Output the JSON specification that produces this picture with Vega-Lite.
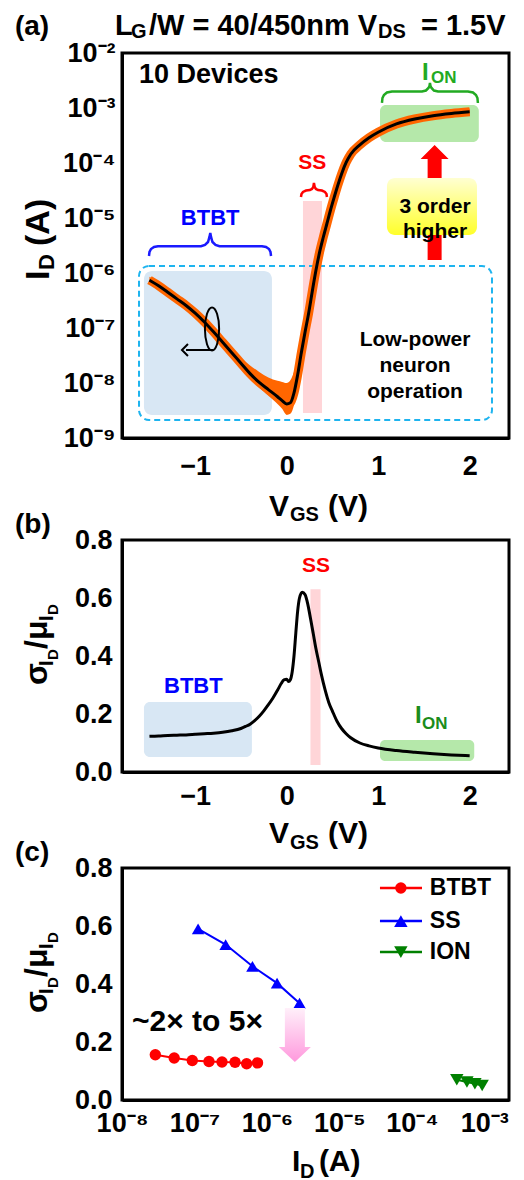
{
"$schema":"https://vega.github.io/schema/vega-lite/v6.json",
"padding":{"left":13,"top":10,"right":5,"bottom":5},
"config":{
 "view":{"stroke":"black","strokeWidth":3},
 "axis":{"domainColor":"black","domainWidth":3,"tickColor":"black","tickWidth":2.5,"tickSize":0,"labelFont":"Liberation Sans","labelFontWeight":"bold","labelFontSize":27,"labelColor":"black","grid":false,"labelFlush":false,"labelOverlap":false,"labelBound":false},
 "text":{"font":"Liberation Sans","fontWeight":"bold","color":"black"}
},
"datasets":{
 "iv":[
  {"V":-1.5,"I":7.413e-7,"lo":6.457e-7,"hi":8.511e-7},
  {"V":-1.4,"I":5.888e-7,"lo":5.129e-7,"hi":6.761e-7},
  {"V":-1.3,"I":4.467e-7,"lo":3.890e-7,"hi":5.129e-7},
  {"V":-1.2,"I":3.388e-7,"lo":2.951e-7,"hi":3.890e-7},
  {"V":-1.1,"I":2.570e-7,"lo":2.239e-7,"hi":2.951e-7},
  {"V":-1.0,"I":1.862e-7,"lo":1.622e-7,"hi":2.138e-7},
  {"V":-0.9,"I":1.288e-7,"lo":1.122e-7,"hi":1.479e-7},
  {"V":-0.8,"I":8.511e-8,"lo":7.413e-8,"hi":9.772e-8},
  {"V":-0.7,"I":5.495e-8,"lo":4.786e-8,"hi":6.310e-8},
  {"V":-0.6,"I":3.548e-8,"lo":3.020e-8,"hi":4.266e-8},
  {"V":-0.5,"I":2.291e-8,"lo":1.905e-8,"hi":2.884e-8},
  {"V":-0.4,"I":1.479e-8,"lo":1.202e-8,"hi":2.089e-8},
  {"V":-0.3,"I":1.023e-8,"lo":8.318e-9,"hi":1.585e-8},
  {"V":-0.2,"I":7.586e-9,"lo":5.888e-9,"hi":1.259e-8},
  {"V":-0.1,"I":5.623e-9,"lo":4.169e-9,"hi":1.096e-8},
  {"V":-0.05,"I":4.786e-9,"lo":3.388e-9,"hi":1.047e-8},
  {"V":0.0,"I":4.169e-9,"lo":2.630e-9,"hi":1.000e-8},
  {"V":0.04,"I":4.365e-9,"lo":2.754e-9,"hi":1.122e-8},
  {"V":0.08,"I":6.607e-9,"lo":3.981e-9,"hi":1.585e-8},
  {"V":0.12,"I":1.413e-8,"lo":8.913e-9,"hi":2.818e-8},
  {"V":0.16,"I":3.548e-8,"lo":2.512e-8,"hi":5.623e-8},
  {"V":0.2,"I":8.318e-8,"lo":6.310e-8,"hi":1.175e-7},
  {"V":0.24,"I":1.862e-7,"lo":1.479e-7,"hi":2.512e-7},
  {"V":0.28,"I":4.677e-7,"lo":3.802e-7,"hi":6.026e-7},
  {"V":0.32,"I":1.122e-6,"lo":9.333e-7,"hi":1.380e-6},
  {"V":0.36,"I":2.399e-6,"lo":2.042e-6,"hi":2.884e-6},
  {"V":0.4,"I":4.467e-6,"lo":3.890e-6,"hi":5.248e-6},
  {"V":0.44,"I":7.943e-6,"lo":6.918e-6,"hi":9.120e-6},
  {"V":0.48,"I":1.413e-5,"lo":1.230e-5,"hi":1.622e-5},
  {"V":0.52,"I":2.399e-5,"lo":2.089e-5,"hi":2.754e-5},
  {"V":0.56,"I":3.981e-5,"lo":3.467e-5,"hi":4.571e-5},
  {"V":0.6,"I":6.310e-5,"lo":5.495e-5,"hi":7.244e-5},
  {"V":0.65,"I":1.023e-4,"lo":8.913e-5,"hi":1.175e-4},
  {"V":0.7,"I":1.445e-4,"lo":1.259e-4,"hi":1.660e-4},
  {"V":0.8,"I":2.138e-4,"lo":1.862e-4,"hi":2.455e-4},
  {"V":0.9,"I":2.884e-4,"lo":2.512e-4,"hi":3.311e-4},
  {"V":1.0,"I":3.631e-4,"lo":3.162e-4,"hi":4.169e-4},
  {"V":1.2,"I":5.129e-4,"lo":4.467e-4,"hi":5.888e-4},
  {"V":1.4,"I":6.310e-4,"lo":5.495e-4,"hi":7.244e-4},
  {"V":1.6,"I":7.244e-4,"lo":6.310e-4,"hi":8.318e-4},
  {"V":1.8,"I":7.943e-4,"lo":6.918e-4,"hi":9.120e-4},
  {"V":2.0,"I":8.511e-4,"lo":7.413e-4,"hi":9.772e-4}
 ],
 "cv":[
  {"V":-1.5,"cv":0.123},{"V":-1.4,"cv":0.124},{"V":-1.3,"cv":0.126},{"V":-1.2,"cv":0.127},
  {"V":-1.1,"cv":0.128},{"V":-1.0,"cv":0.130},{"V":-0.9,"cv":0.132},{"V":-0.8,"cv":0.134},
  {"V":-0.7,"cv":0.137},{"V":-0.6,"cv":0.142},{"V":-0.5,"cv":0.150},{"V":-0.45,"cv":0.157},
  {"V":-0.4,"cv":0.165},{"V":-0.35,"cv":0.177},{"V":-0.3,"cv":0.192},{"V":-0.25,"cv":0.211},
  {"V":-0.2,"cv":0.232},{"V":-0.15,"cv":0.255},{"V":-0.1,"cv":0.282},{"V":-0.06,"cv":0.305},
  {"V":-0.03,"cv":0.318},{"V":0.0,"cv":0.320},{"V":0.02,"cv":0.312},{"V":0.04,"cv":0.318},
  {"V":0.06,"cv":0.345},{"V":0.08,"cv":0.400},{"V":0.10,"cv":0.480},{"V":0.12,"cv":0.555},
  {"V":0.14,"cv":0.600},{"V":0.17,"cv":0.620},{"V":0.20,"cv":0.612},{"V":0.23,"cv":0.580},
  {"V":0.26,"cv":0.530},{"V":0.29,"cv":0.478},{"V":0.32,"cv":0.425},{"V":0.35,"cv":0.380},
  {"V":0.38,"cv":0.335},{"V":0.42,"cv":0.283},{"V":0.46,"cv":0.240},{"V":0.50,"cv":0.210},
  {"V":0.55,"cv":0.175},{"V":0.60,"cv":0.150},{"V":0.65,"cv":0.132},{"V":0.70,"cv":0.118},
  {"V":0.80,"cv":0.100},{"V":0.90,"cv":0.090},{"V":1.00,"cv":0.083},{"V":1.20,"cv":0.074},
  {"V":1.40,"cv":0.068},{"V":1.60,"cv":0.063},{"V":1.80,"cv":0.059},{"V":2.00,"cv":0.056}
 ],
 "dev":[
  {"s":"BTBT","I":2.884e-8,"cv":0.156},{"s":"BTBT","I":5.248e-8,"cv":0.145},{"s":"BTBT","I":9.333e-8,"cv":0.136},
  {"s":"BTBT","I":1.585e-7,"cv":0.133},{"s":"BTBT","I":2.399e-7,"cv":0.131},{"s":"BTBT","I":3.631e-7,"cv":0.130},
  {"s":"BTBT","I":5.248e-7,"cv":0.125},{"s":"BTBT","I":7.413e-7,"cv":0.128},
  {"s":"SS","I":1.122e-7,"cv":0.590},{"s":"SS","I":2.692e-7,"cv":0.536},{"s":"SS","I":6.310e-7,"cv":0.461},
  {"s":"SS","I":1.380e-6,"cv":0.403},{"s":"SS","I":2.818e-6,"cv":0.334},
  {"s":"ION","I":4.169e-4,"cv":0.070},{"s":"ION","I":5.754e-4,"cv":0.062},{"s":"ION","I":7.413e-4,"cv":0.056},{"s":"ION","I":9.333e-4,"cv":0.050}
 ],
 "braceI":[
  {"x":1.0415,"y":1.233e-3},{"x":1.047,"y":1.520e-3},{"x":1.063,"y":1.722e-3},{"x":1.096,"y":1.914e-3},
  {"x":1.151,"y":1.995e-3},{"x":1.479,"y":1.995e-3},{"x":1.522,"y":2.080e-3},{"x":1.550,"y":2.31e-3},
  {"x":1.561,"y":2.51e-3},{"x":1.566,"y":2.85e-3},{"x":1.572,"y":2.51e-3},{"x":1.583,"y":2.31e-3},
  {"x":1.610,"y":2.080e-3},{"x":1.654,"y":1.995e-3},{"x":1.981,"y":1.995e-3},{"x":2.036,"y":1.914e-3},
  {"x":2.069,"y":1.722e-3},{"x":2.085,"y":1.520e-3},{"x":2.090,"y":1.233e-3}
 ],
 "braceS":[
  {"x":0.156,"y":2.41e-5},{"x":0.162,"y":2.73e-5},{"x":0.178,"y":2.97e-5},{"x":0.211,"y":3.16e-5},
  {"x":0.254,"y":3.23e-5},{"x":0.276,"y":3.37e-5},{"x":0.291,"y":3.66e-5},{"x":0.298,"y":4.33e-5},
  {"x":0.306,"y":3.66e-5},{"x":0.320,"y":3.37e-5},{"x":0.342,"y":3.23e-5},{"x":0.385,"y":3.16e-5},
  {"x":0.418,"y":2.97e-5},{"x":0.435,"y":2.73e-5},{"x":0.440,"y":2.41e-5}
 ],
 "braceB":[
  {"x":-1.505,"y":2.04e-6},{"x":-1.4995,"y":2.41e-6},{"x":-1.483,"y":2.73e-6},{"x":-1.450,"y":2.97e-6},
  {"x":-1.407,"y":3.06e-6},{"x":-0.937,"y":3.06e-6},{"x":-0.893,"y":3.23e-6},{"x":-0.860,"y":3.66e-6},
  {"x":-0.844,"y":4.52e-6},{"x":-0.835,"y":5.33e-6},{"x":-0.827,"y":4.52e-6},{"x":-0.811,"y":3.66e-6},
  {"x":-0.778,"y":3.23e-6},{"x":-0.734,"y":3.06e-6},{"x":-0.270,"y":3.06e-6},{"x":-0.226,"y":2.97e-6},
  {"x":-0.193,"y":2.73e-6},{"x":-0.177,"y":2.41e-6},{"x":-0.171,"y":2.04e-6}
 ]
},
"bounds":"flush",
"spacing":102,
"vconcat":[
 {
  "width":387,"height":385,
  "data":{"values":[{}]},
  "resolve":{"axis":{"x":"independent","y":"independent"}},
  "layer":[
  {"layer":[
   {"mark":{"type":"rect","color":"#d8e7f4","cornerRadius":8},
    "encoding":{
     "x":{"datum":-1.56,"type":"quantitative","scale":{"domain":[-1.8,2.43],"nice":false,"zero":false},
      "axis":{"title":null,"values":[-1,0,1,2],"format":"d",
       "encode":{"ticks":{"update":{"y2":{"value":-9}}}},
       "labelPadding":15}},
     "x2":{"datum":-0.161},
     "y":{"datum":1.087e-6,"type":"quantitative","scale":{"type":"log","domain":[1e-9,1e-2],"nice":false},
      "axis":{"title":null,"values":[1e-9,1e-8,1e-7,1e-6,1e-5,1e-4,1e-3,1e-2],
       "labelExpr":"'10'+['⁻⁹','⁻⁸','⁻⁷','⁻⁶','⁻⁵','⁻⁴','⁻³','⁻²'][round(log(datum.value)/LN10)+9]",
       "encode":{"ticks":{"update":{"x2":{"value":9}}}},
       "labelPadding":7}},
     "y2":{"datum":2.62e-9}}},
   {"mark":{"type":"rect","color":"#ffd5d8"},
    "encoding":{"x":{"datum":0.178},"x2":{"datum":0.386},"y":{"datum":2.04e-5},"y2":{"datum":2.85e-9}}},
   {"mark":{"type":"rect","color":"#b5e8aa","cornerRadius":6},
    "encoding":{"x":{"datum":1.02},"x2":{"datum":2.10},"y":{"datum":1.135e-3},"y2":{"datum":2.41e-4}}},
   {"mark":{"type":"rect","fill":null,"filled":false,"stroke":"#1eb4ef","strokeWidth":2,"strokeDash":[6,4],"cornerRadius":10},
    "encoding":{"x":{"datum":-1.614},"x2":{"datum":2.244},"y":{"datum":1.34e-6},"y2":{"datum":2.12e-9}}},
   {"mark":{"type":"point","shape":"M -0.1217 1 L -0.1217 -0.7565 L -0.2435 -0.7565 L 0 -1 L 0.2435 -0.7565 L 0.1217 -0.7565 L 0.1217 1 Z","size":13225,"filled":true,"color":"#ff0000","opacity":1,"strokeWidth":0},
    "encoding":{"x":{"datum":1.617},"y":{"datum":1.914e-5}}},
   {"mark":{"type":"rect","cornerRadius":8,"color":{"gradient":"linear","x1":0,"y1":0,"x2":0,"y2":1,"stops":[{"offset":0,"color":"#ffffd2"},{"offset":1,"color":"#ffff2a"}]}},
    "encoding":{"x":{"datum":1.096},"x2":{"datum":2.080},"y":{"datum":5.33e-5},"y2":{"datum":4.91e-6}}},
   {"data":{"name":"iv"},"mark":{"type":"area","color":"#ff6600","opacity":1,"interpolate":"monotone"},
    "encoding":{"x":{"field":"V","type":"quantitative","title":null},"y":{"field":"lo","type":"quantitative","title":null},"y2":{"field":"hi"}}},
   {"data":{"name":"iv"},"mark":{"type":"line","color":"#ff6600","strokeWidth":9,"interpolate":"monotone"},
    "encoding":{"x":{"field":"V","type":"quantitative","title":null},"y":{"field":"I","type":"quantitative","title":null}}},
   {"data":{"name":"iv"},"mark":{"type":"line","color":"black","strokeWidth":3,"interpolate":"monotone"},
    "encoding":{"x":{"field":"V","type":"quantitative","title":null},"y":{"field":"I","type":"quantitative","title":null}}},
   {"mark":{"type":"point","shape":"M -0.33 0 A 0.33 1 0 1 0 0.33 0 A 0.33 1 0 1 0 -0.33 0 Z","size":1849,"filled":false,"color":"black","strokeWidth":2,"opacity":1},
    "encoding":{"x":{"datum":-0.816},"y":{"datum":9.59e-8}}},
   {"mark":{"type":"rule","color":"black","strokeWidth":2},
    "encoding":{"x":{"datum":-0.80},"x2":{"datum":-1.10},"y":{"datum":3.98e-8}}},
   {"mark":{"type":"point","shape":"M 0 -1 L -1 0 L 0 1","size":144,"filled":false,"color":"black","strokeWidth":2,"opacity":1},
    "encoding":{"x":{"datum":-1.079},"y":{"datum":3.98e-8}}},
   {"data":{"name":"braceI"},"mark":{"type":"line","color":"#22aa22","strokeWidth":2.5},
    "encoding":{"x":{"field":"x","type":"quantitative","title":null},"y":{"field":"y","type":"quantitative","title":null}}},
   {"data":{"name":"braceS"},"mark":{"type":"line","color":"#ff0000","strokeWidth":2.5},
    "encoding":{"x":{"field":"x","type":"quantitative","title":null},"y":{"field":"y","type":"quantitative","title":null}}},
   {"data":{"name":"braceB"},"mark":{"type":"line","color":"#1a1aff","strokeWidth":2.5},
    "encoding":{"x":{"field":"x","type":"quantitative","title":null},"y":{"field":"y","type":"quantitative","title":null}}},
   {"mark":{"type":"text","text":"BTBT","color":"#0000ff","fontSize":22,"align":"center","baseline":"middle"},
    "encoding":{"x":{"datum":-0.836},"y":{"datum":1e-5}}},
   {"mark":{"type":"text","text":"SS","color":"#ff0000","fontSize":21,"align":"center","baseline":"middle"},
    "encoding":{"x":{"datum":0.28},"y":{"datum":1e-4}}},
   {"mark":{"type":"text","text":"I","color":"#22aa22","fontSize":24,"align":"left","baseline":"alphabetic"},
    "encoding":{"x":{"datum":1.478},"y":{"datum":3.25e-3}}},
   {"mark":{"type":"text","text":"ON","color":"#22aa22","fontSize":17,"align":"left","baseline":"alphabetic"},
    "encoding":{"x":{"datum":1.577},"y":{"datum":2.85e-3}}},
   {"mark":{"type":"text","text":"10 Devices","fontSize":27,"align":"left","baseline":"alphabetic"},
    "encoding":{"x":{"datum":-1.614},"y":{"datum":2.85e-3}}},
   {"mark":{"type":"text","text":["3 order","higher"],"fontSize":21,"lineHeight":25,"align":"center","baseline":"middle"},
    "encoding":{"x":{"datum":1.621},"y":{"datum":1.585e-5}}},
   {"mark":{"type":"text","text":["Low-power","neuron","operation"],"fontSize":21,"lineHeight":26,"align":"center","baseline":"middle"},
    "encoding":{"x":{"datum":1.403},"y":{"datum":6.05e-8}}},
   {"mark":{"type":"text","text":"(a)","fontSize":28,"align":"left","baseline":"middle"},
    "encoding":{"x":{"datum":-2.97},"y":{"datum":2.97e-2}}},
   {"mark":{"type":"text","text":"L","fontSize":29,"align":"left","baseline":"alphabetic"},
    "encoding":{"x":{"datum":-1.877},"y":{"datum":2.12e-2}}},
   {"mark":{"type":"text","text":"G","fontSize":20,"align":"left","baseline":"alphabetic"},
    "encoding":{"x":{"datum":-1.702},"y":{"datum":1.87e-2}}},
   {"mark":{"type":"text","text":"/W = 40/450nm V","fontSize":29,"align":"left","baseline":"alphabetic"},
    "encoding":{"x":{"datum":-1.505},"y":{"datum":2.12e-2}}},
   {"mark":{"type":"text","text":"DS","fontSize":20,"align":"left","baseline":"alphabetic"},
    "encoding":{"x":{"datum":0.998},"y":{"datum":1.87e-2}}},
   {"mark":{"type":"text","text":"= 1.5V","fontSize":29,"align":"left","baseline":"alphabetic"},
    "encoding":{"x":{"datum":1.467},"y":{"datum":2.12e-2}}},
   {"mark":{"type":"text","text":"V","fontSize":30,"align":"left","baseline":"alphabetic"},
    "encoding":{"x":{"datum":-0.193},"y":{"datum":3.82e-11}}},
   {"mark":{"type":"text","text":"GS","fontSize":20,"align":"left","baseline":"alphabetic"},
    "encoding":{"x":{"datum":0.036},"y":{"datum":3.10e-11}}},
   {"mark":{"type":"text","text":"(V)","fontSize":30,"align":"left","baseline":"alphabetic"},
    "encoding":{"x":{"datum":0.451},"y":{"datum":3.82e-11}}},
   {"mark":{"type":"text","text":"I","fontSize":34,"angle":270,"align":"left","baseline":"alphabetic"},
    "encoding":{"x":{"datum":-2.598},"y":{"datum":7.46e-7}}},
   {"mark":{"type":"text","text":"D","fontSize":22,"angle":270,"align":"left","baseline":"alphabetic","dx":10,"dy":5},
    "encoding":{"x":{"datum":-2.598},"y":{"datum":7.46e-7}}},
   {"mark":{"type":"text","text":"(A)","fontSize":34,"angle":270,"align":"left","baseline":"alphabetic","dx":34},
    "encoding":{"x":{"datum":-2.598},"y":{"datum":7.46e-7}}}
  ]},
  {"mark":{"type":"point","opacity":0},
   "encoding":{
    "x":{"datum":0,"type":"quantitative","axis":{"orient":"bottom","title":null,"labels":false,"domain":false,"values":[-1.6,-1.4,-1.2,-0.8,-0.6,-0.4,-0.2,0.2,0.4,0.6,0.8,1.2,1.4,1.6,1.8,2.2,2.4],"encode":{"ticks":{"update":{"y2":{"value":-5}}}}}},
    "y":{"datum":1e-5,"type":"quantitative","axis":{"orient":"left","title":null,"labels":false,"domain":false,"values":[2e-9,3e-9,4e-9,5e-9,6e-9,7e-9,8e-9,9e-9,2e-8,3e-8,4e-8,5e-8,6e-8,7e-8,8e-8,9e-8,2e-7,3e-7,4e-7,5e-7,6e-7,7e-7,8e-7,9e-7,2e-6,3e-6,4e-6,5e-6,6e-6,7e-6,8e-6,9e-6,2e-5,3e-5,4e-5,5e-5,6e-5,7e-5,8e-5,9e-5,2e-4,3e-4,4e-4,5e-4,6e-4,7e-4,8e-4,9e-4,2e-3,3e-3,4e-3,5e-3,6e-3,7e-3,8e-3,9e-3],"encode":{"ticks":{"update":{"x2":{"value":5}}}}}}}}
  ]
 },
 {
  "bounds":"flush",
  "spacing":96,
  "vconcat":[
   {
    "width":387,"height":232,
    "data":{"values":[{}]},
    "resolve":{"axis":{"x":"independent","y":"independent"}},
    "layer":[
    {"layer":[
     {"mark":{"type":"rect","color":"#ffd5d8"},
      "encoding":{
       "x":{"datum":0.26,"type":"quantitative","scale":{"domain":[-1.8,2.43],"nice":false,"zero":false},
        "axis":{"title":null,"values":[-1,0,1,2],"format":"d",
         "encode":{"ticks":{"update":{"y2":{"value":-9}}}},
         "labelPadding":11}},
       "x2":{"datum":0.37},
       "y":{"datum":0.63,"type":"quantitative","scale":{"domain":[0,0.8],"nice":false},
        "axis":{"title":null,"values":[0,0.2,0.4,0.6,0.8],"format":".1f",
         "encode":{"ticks":{"update":{"x2":{"value":9}}}},
         "labelPadding":10}},
       "y2":{"datum":0.024}}},
     {"mark":{"type":"rect","color":"#d8e7f4","cornerRadius":6},
      "encoding":{"x":{"datum":-1.56},"x2":{"datum":-0.38},"y":{"datum":0.241},"y2":{"datum":0.052}}},
     {"mark":{"type":"rect","color":"#b5e8aa","cornerRadius":5},
      "encoding":{"x":{"datum":1.02},"x2":{"datum":2.05},"y":{"datum":0.11},"y2":{"datum":0.038}}},
     {"data":{"name":"cv"},"mark":{"type":"line","color":"black","strokeWidth":3,"interpolate":"monotone"},
      "encoding":{"x":{"field":"V","type":"quantitative","title":null},"y":{"field":"cv","type":"quantitative","title":null}}},
     {"mark":{"type":"text","text":"SS","color":"#ff0000","fontSize":21,"align":"center","baseline":"middle"},
      "encoding":{"x":{"datum":0.32},"y":{"datum":0.71}}},
     {"mark":{"type":"text","text":"BTBT","color":"#0000ff","fontSize":22,"align":"center","baseline":"middle"},
      "encoding":{"x":{"datum":-1.02},"y":{"datum":0.297}}},
     {"mark":{"type":"text","text":"I","color":"#1b8c1b","fontSize":24,"align":"left","baseline":"alphabetic"},
      "encoding":{"x":{"datum":1.402},"y":{"datum":0.169}}},
     {"mark":{"type":"text","text":"ON","color":"#1b8c1b","fontSize":17,"align":"left","baseline":"alphabetic"},
      "encoding":{"x":{"datum":1.479},"y":{"datum":0.148}}},
     {"mark":{"type":"text","text":"(b)","fontSize":28,"align":"left","baseline":"middle"},
      "encoding":{"x":{"datum":-2.97},"y":{"datum":0.852}}},
     {"mark":{"type":"text","text":"V","fontSize":30,"align":"left","baseline":"alphabetic"},
      "encoding":{"x":{"datum":-0.193},"y":{"datum":-0.245}}},
     {"mark":{"type":"text","text":"GS","fontSize":20,"align":"left","baseline":"alphabetic"},
      "encoding":{"x":{"datum":0.036},"y":{"datum":-0.266}}},
     {"mark":{"type":"text","text":"(V)","fontSize":30,"align":"left","baseline":"alphabetic"},
      "encoding":{"x":{"datum":0.451},"y":{"datum":-0.245}}},
     {"mark":{"type":"text","text":"σ","fontSize":32,"angle":270,"align":"left","baseline":"alphabetic"},
      "encoding":{"x":{"datum":-2.62},"y":{"datum":0.30}}},
     {"mark":{"type":"text","text":"I","fontSize":20,"angle":270,"align":"left","baseline":"alphabetic","dx":19,"dy":6},
      "encoding":{"x":{"datum":-2.62},"y":{"datum":0.30}}},
     {"mark":{"type":"text","text":"D","fontSize":15,"angle":270,"align":"left","baseline":"alphabetic","dx":25,"dy":11},
      "encoding":{"x":{"datum":-2.62},"y":{"datum":0.30}}},
     {"mark":{"type":"text","text":"/μ","fontSize":32,"angle":270,"align":"left","baseline":"alphabetic","dx":36},
      "encoding":{"x":{"datum":-2.62},"y":{"datum":0.30}}},
     {"mark":{"type":"text","text":"I","fontSize":20,"angle":270,"align":"left","baseline":"alphabetic","dx":64,"dy":6},
      "encoding":{"x":{"datum":-2.62},"y":{"datum":0.30}}},
     {"mark":{"type":"text","text":"D","fontSize":15,"angle":270,"align":"left","baseline":"alphabetic","dx":70,"dy":11},
      "encoding":{"x":{"datum":-2.62},"y":{"datum":0.30}}}
    ]},
    {"mark":{"type":"point","opacity":0},
     "encoding":{
      "x":{"datum":0,"type":"quantitative","axis":{"orient":"bottom","title":null,"labels":false,"domain":false,"values":[-1.6,-1.4,-1.2,-0.8,-0.6,-0.4,-0.2,0.2,0.4,0.6,0.8,1.2,1.4,1.6,1.8,2.2,2.4],"encode":{"ticks":{"update":{"y2":{"value":-5}}}}}},
      "y":{"datum":0.1,"type":"quantitative","axis":{"orient":"left","title":null,"labels":false,"domain":false,"values":[0.04,0.08,0.12,0.16,0.24,0.28,0.32,0.36,0.44,0.48,0.52,0.56,0.64,0.68,0.72,0.76],"encode":{"ticks":{"update":{"x2":{"value":5}}}}}}}}
    ]
   },
   {
    "width":387,"height":232,
    "data":{"values":[{}]},
    "resolve":{"axis":{"x":"independent","y":"independent"}},
    "layer":[
    {"layer":[
     {"data":{"name":"dev"},"mark":{"type":"line","strokeWidth":2},
      "encoding":{
       "x":{"field":"I","type":"quantitative","scale":{"type":"log","domain":[1e-8,2.19e-3],"nice":false},
        "axis":{"title":null,"values":[1e-8,1e-7,1e-6,1e-5,1e-4,1e-3],
         "labelExpr":"'10'+['⁻⁸','⁻⁷','⁻⁶','⁻⁵','⁻⁴','⁻³'][round(log(datum.value)/LN10)+8]",
         "encode":{"ticks":{"update":{"y2":{"value":-9}}}},
         "labelPadding":10}},
       "y":{"field":"cv","type":"quantitative","scale":{"domain":[0,0.8],"nice":false},
        "axis":{"title":null,"values":[0,0.2,0.4,0.6,0.8],"format":".1f",
         "encode":{"ticks":{"update":{"x2":{"value":9}}}},
         "labelPadding":10}},
       "color":{"field":"s","type":"nominal","scale":{"domain":["BTBT","SS","ION"],"range":["#ff0000","#0000ff","#008000"]},"legend":null}}},
     {"data":{"name":"dev"},"mark":{"type":"point","filled":true,"opacity":1},
      "encoding":{
       "x":{"field":"I","type":"quantitative","title":null},
       "y":{"field":"cv","type":"quantitative","title":null},
       "color":{"field":"s","type":"nominal","scale":{"domain":["BTBT","SS","ION"],"range":["#ff0000","#0000ff","#008000"]},"legend":null},
       "shape":{"field":"s","type":"nominal","scale":{"domain":["BTBT","SS","ION"],"range":["circle","triangle-up","triangle-down"]},"legend":null},
       "size":{"field":"s","type":"nominal","scale":{"domain":["BTBT","SS","ION"],"range":[130,180,180]},"legend":null}}},
     {"mark":{"type":"rule","color":"#ff0000","strokeWidth":2.5},
      "encoding":{"x":{"datum":3.63e-5},"x2":{"datum":1.38e-4},"y":{"datum":0.731}}},
     {"mark":{"type":"point","shape":"circle","filled":true,"opacity":1,"size":130,"color":"#ff0000"},
      "encoding":{"x":{"datum":7.05e-5},"y":{"datum":0.731}}},
     {"mark":{"type":"text","text":"BTBT","fontSize":23,"align":"left","baseline":"middle"},
      "encoding":{"x":{"datum":1.77e-4},"y":{"datum":0.731}}},
     {"mark":{"type":"rule","color":"#0000ff","strokeWidth":2.5},
      "encoding":{"x":{"datum":3.63e-5},"x2":{"datum":1.38e-4},"y":{"datum":0.617}}},
     {"mark":{"type":"point","shape":"triangle-up","filled":true,"opacity":1,"size":180,"color":"#0000ff"},
      "encoding":{"x":{"datum":7.05e-5},"y":{"datum":0.617}}},
     {"mark":{"type":"text","text":"SS","fontSize":23,"align":"left","baseline":"middle"},
      "encoding":{"x":{"datum":1.77e-4},"y":{"datum":0.617}}},
     {"mark":{"type":"rule","color":"#008000","strokeWidth":2.5},
      "encoding":{"x":{"datum":3.63e-5},"x2":{"datum":1.38e-4},"y":{"datum":0.510}}},
     {"mark":{"type":"point","shape":"triangle-down","filled":true,"opacity":1,"size":180,"color":"#008000"},
      "encoding":{"x":{"datum":7.05e-5},"y":{"datum":0.510}}},
     {"mark":{"type":"text","text":"ION","fontSize":23,"align":"left","baseline":"middle"},
      "encoding":{"x":{"datum":1.77e-4},"y":{"datum":0.510}}},
     {"mark":{"type":"text","text":"~2× to 5×","fontSize":30,"align":"left","baseline":"alphabetic"},
      "encoding":{"x":{"datum":1.374e-8},"y":{"datum":0.238}}},
     {"mark":{"type":"point","shape":"M -0.37 -1 L 0.37 -1 L 0.37 0.444 L 0.593 0.444 L 0 1 L -0.593 0.444 L -0.37 0.444 Z","size":2916,"filled":true,"opacity":1,"strokeWidth":0,
       "color":{"gradient":"linear","x1":0,"y1":0,"x2":0,"y2":1,"stops":[{"offset":0,"color":"#fff0fa"},{"offset":1,"color":"#ff99dd"}]}},
      "encoding":{"x":{"datum":2.43e-6},"y":{"datum":0.224}}},
     {"mark":{"type":"text","text":"(c)","fontSize":28,"align":"left","baseline":"middle"},
      "encoding":{"x":{"datum":3.34e-10},"y":{"datum":0.852}}},
     {"mark":{"type":"text","text":"I","fontSize":30,"align":"left","baseline":"alphabetic"},
      "encoding":{"x":{"datum":2.213e-6},"y":{"datum":-0.245}}},
     {"mark":{"type":"text","text":"D","fontSize":20,"align":"left","baseline":"alphabetic"},
      "encoding":{"x":{"datum":2.851e-6},"y":{"datum":-0.269}}},
     {"mark":{"type":"text","text":"(A)","fontSize":30,"align":"left","baseline":"alphabetic"},
      "encoding":{"x":{"datum":5.21e-6},"y":{"datum":-0.245}}},
     {"mark":{"type":"text","text":"σ","fontSize":32,"angle":270,"align":"left","baseline":"alphabetic"},
      "encoding":{"x":{"datum":9.25e-10},"y":{"datum":0.30}}},
     {"mark":{"type":"text","text":"I","fontSize":20,"angle":270,"align":"left","baseline":"alphabetic","dx":19,"dy":6},
      "encoding":{"x":{"datum":9.25e-10},"y":{"datum":0.30}}},
     {"mark":{"type":"text","text":"D","fontSize":15,"angle":270,"align":"left","baseline":"alphabetic","dx":25,"dy":11},
      "encoding":{"x":{"datum":9.25e-10},"y":{"datum":0.30}}},
     {"mark":{"type":"text","text":"/μ","fontSize":32,"angle":270,"align":"left","baseline":"alphabetic","dx":36},
      "encoding":{"x":{"datum":9.25e-10},"y":{"datum":0.30}}},
     {"mark":{"type":"text","text":"I","fontSize":20,"angle":270,"align":"left","baseline":"alphabetic","dx":64,"dy":6},
      "encoding":{"x":{"datum":9.25e-10},"y":{"datum":0.30}}},
     {"mark":{"type":"text","text":"D","fontSize":15,"angle":270,"align":"left","baseline":"alphabetic","dx":70,"dy":11},
      "encoding":{"x":{"datum":9.25e-10},"y":{"datum":0.30}}}
    ]},
    {"mark":{"type":"point","opacity":0},
     "encoding":{
      "x":{"datum":1e-5,"type":"quantitative","axis":{"orient":"bottom","title":null,"labels":false,"domain":false,"values":[2e-8,3e-8,4e-8,5e-8,6e-8,7e-8,8e-8,9e-8,2e-7,3e-7,4e-7,5e-7,6e-7,7e-7,8e-7,9e-7,2e-6,3e-6,4e-6,5e-6,6e-6,7e-6,8e-6,9e-6,2e-5,3e-5,4e-5,5e-5,6e-5,7e-5,8e-5,9e-5,2e-4,3e-4,4e-4,5e-4,6e-4,7e-4,8e-4,9e-4,2e-3],"encode":{"ticks":{"update":{"y2":{"value":-5}}}}}},
      "y":{"datum":0.1,"type":"quantitative","axis":{"orient":"left","title":null,"labels":false,"domain":false,"values":[0.04,0.08,0.12,0.16,0.24,0.28,0.32,0.36,0.44,0.48,0.52,0.56,0.64,0.68,0.72,0.76],"encode":{"ticks":{"update":{"x2":{"value":5}}}}}}}}
    ]
   }
  ]
 }
]
}
